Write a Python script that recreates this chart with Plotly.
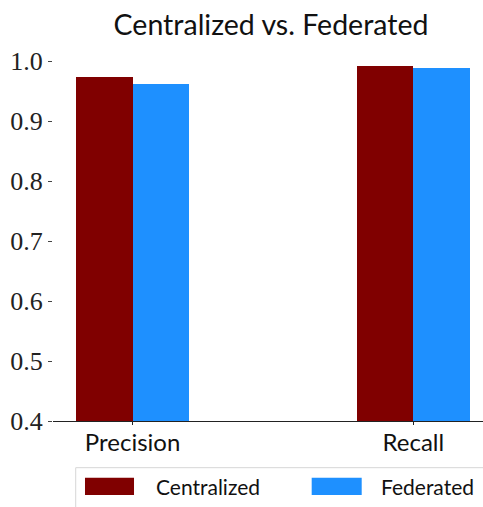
import plotly.graph_objects as go

categories = ["Precision", "Recall"]
series_names = ["Centralized", "Federated"]
centralized = [0.973, 0.992]
federated = [0.961, 0.989]
colors = ["#800000", "#1E90FF"]
ytick_vals = [0.4, 0.5, 0.6, 0.7, 0.8, 0.9, 1.0]
ytick_text = ["0.4", "0.5", "0.6", "0.7", "0.8", "0.9", "1.0"]

xpos = list(range(len(categories)))
bar_w = 0.2

fig = go.Figure()
fig.add_trace(go.Bar(x=xpos, y=centralized, width=bar_w, offset=-bar_w,
                     marker=dict(color=colors[0], line=dict(width=0)),
                     name=series_names[0], showlegend=False))
fig.add_trace(go.Bar(x=xpos, y=federated, width=bar_w, offset=0,
                     marker=dict(color=colors[1], line=dict(width=0)),
                     name=series_names[1], showlegend=False))

sans = "Lato, 'Open Sans', sans-serif"
serif = "'Liberation Serif', 'DejaVu Serif', serif"

# custom legend (matplotlib-style wide patches)
shapes = [
    dict(type="rect", xref="paper", yref="paper", x0=0.0528, x1=1.03, y0=-0.26, y1=-0.1255,
         line=dict(color="#d6d6d6", width=1), fillcolor="white", layer="below"),
    dict(type="rect", xref="paper", yref="paper", x0=0.0744, x1=0.1884, y0=-0.1989, y1=-0.1524,
         line=dict(width=0), fillcolor=colors[0]),
    dict(type="rect", xref="paper", yref="paper", x0=0.6016, x1=0.7179, y0=-0.1989, y1=-0.1524,
         line=dict(width=0), fillcolor=colors[1]),
]
annotations = [
    dict(text=series_names[0], xref="paper", yref="paper", x=0.2352, y=-0.1757,
         xanchor="left", yanchor="middle", showarrow=False,
         font=dict(family=sans, size=21, color="#111")),
    dict(text=series_names[1], xref="paper", yref="paper", x=0.7580, y=-0.1757,
         xanchor="left", yanchor="middle", showarrow=False,
         font=dict(family=sans, size=21, color="#111")),
]

fig.update_layout(
    width=483, height=507,
    margin=dict(l=53, r=0, t=49, b=86, autoexpand=False),
    paper_bgcolor="white", plot_bgcolor="white",
    title=dict(text="Centralized vs. Federated", x=0.507, xref="paper", xanchor="center",
               y=1 - 25/507, yanchor="middle",
               font=dict(family=sans, size=28.5, color="#111")),
    shapes=shapes, annotations=annotations,
    bargap=0,
)
fig.update_xaxes(range=[-0.2833, 1.248], tickvals=xpos, ticktext=categories,
                 automargin=False, ticklabelstandoff=-3,
                 showline=True, linecolor="#222", linewidth=1,
                 ticks="outside", ticklen=3, tickcolor="#222",
                 showgrid=False, zeroline=False,
                 tickfont=dict(family=sans, size=24, color="#111"))
fig.update_yaxes(range=[0.4, 1.02], tickvals=ytick_vals, ticktext=ytick_text,
                 automargin=False,
                 showline=False, ticks="outside", ticklen=4, tickcolor="#444",
                 showgrid=False, zeroline=False,
                 tickfont=dict(family=serif, size=26, color="#222"))

fig.write_html("out.html", config={"displayModeBar": False},
               post_script="document.body.style.margin='0px';document.body.style.overflow='hidden';")
